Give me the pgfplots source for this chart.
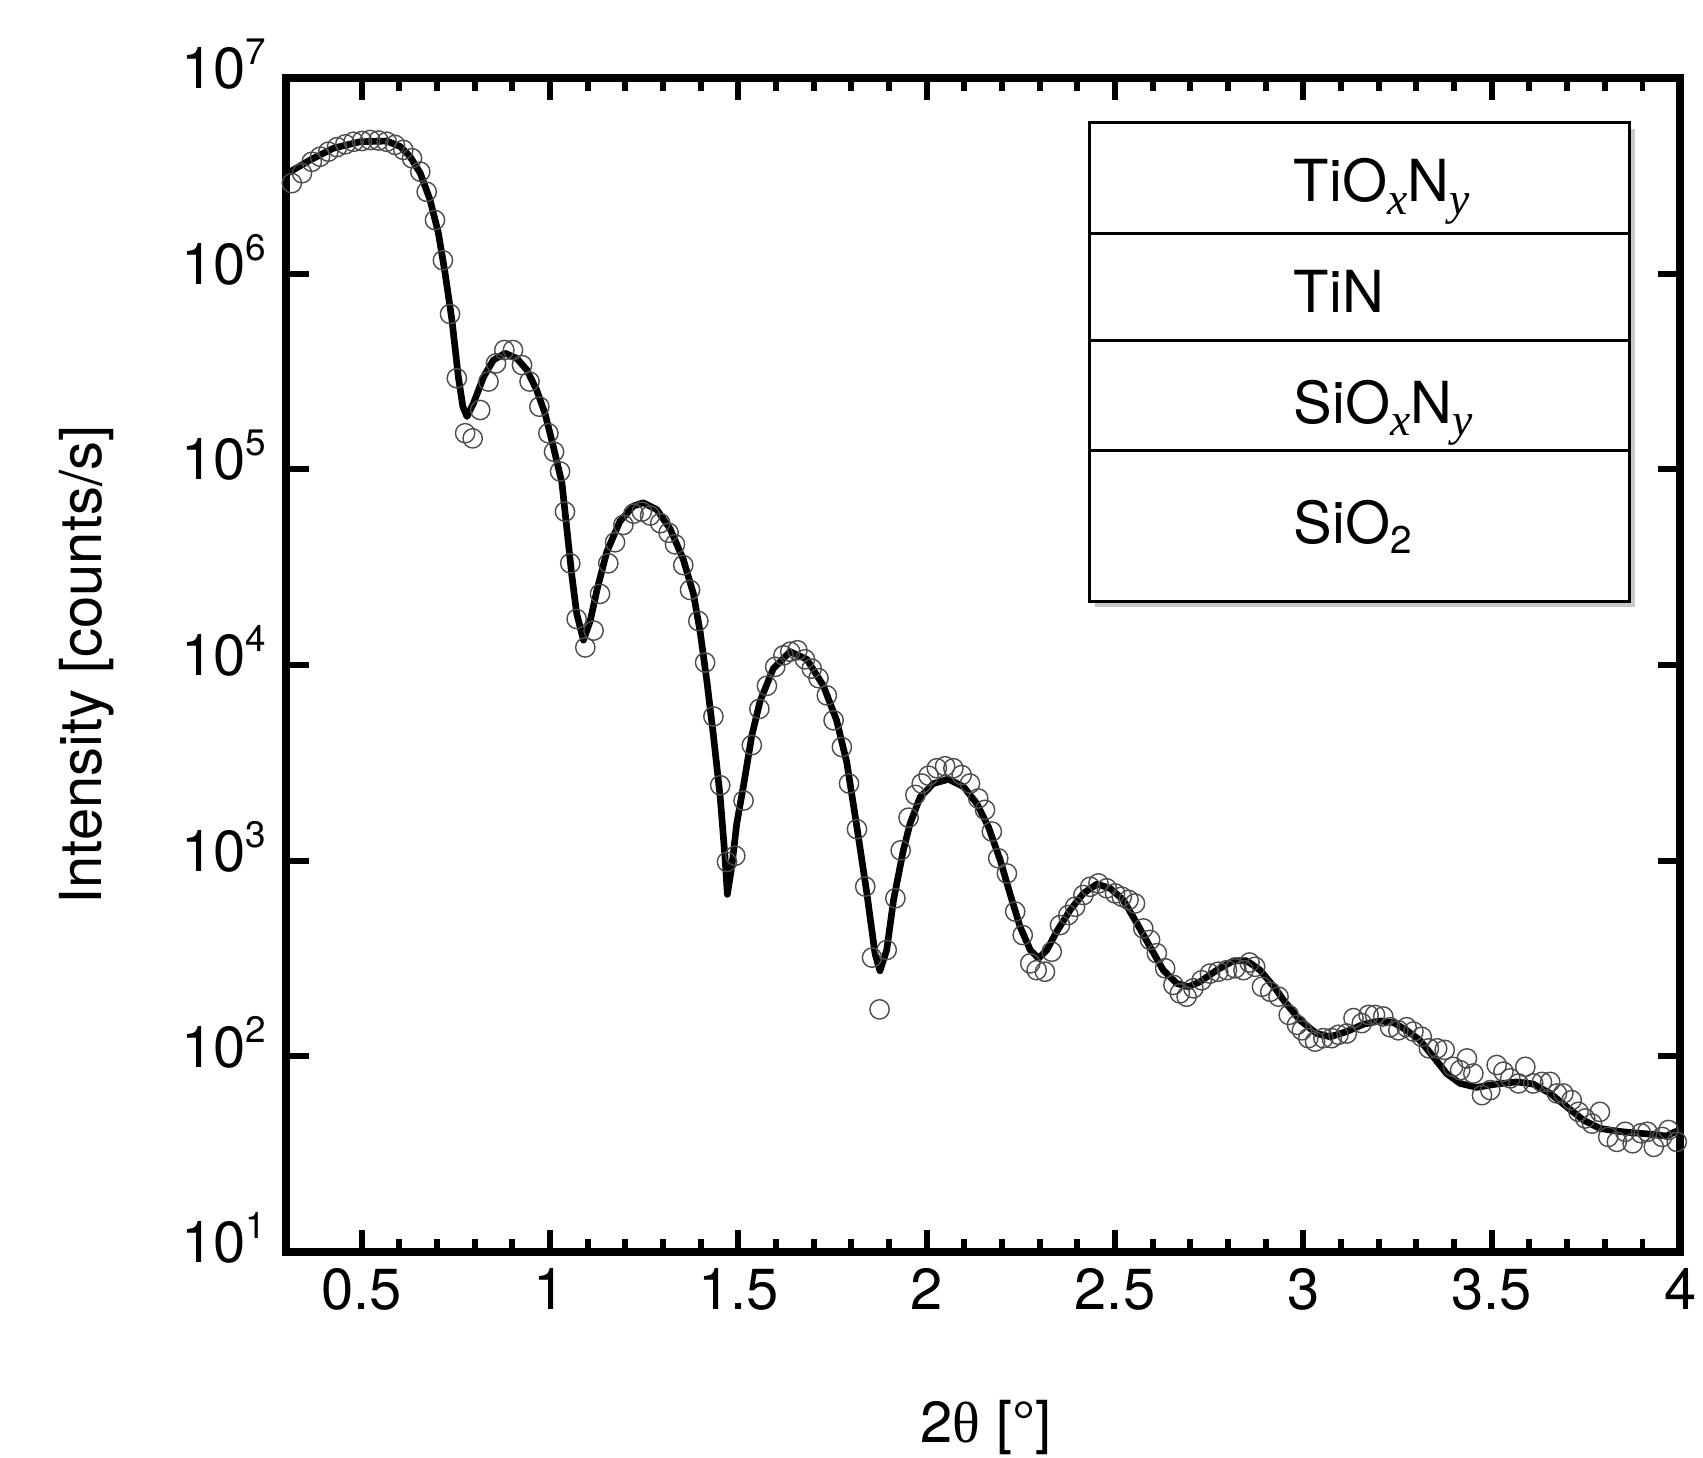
\documentclass[border=0pt]{standalone}
\usepackage{fontspec}
\setmainfont{TeX Gyre Heros}
\newfontfamily\tms{Liberation Serif}
\usepackage{pgfplots}
\pgfplotsset{compat=1.18}
\newcommand\sups[1]{\raisebox{0.42em}{\fontsize{10.5}{12}\selectfont #1}}
\newcommand\isub[1]{\raisebox{-0.22em}{\fontsize{13}{14}\selectfont\tms\itshape #1}}
\newcommand\nsub[1]{\raisebox{-0.18em}{\fontsize{11}{12}\selectfont #1}}
\begin{document}
\fontsize{16.5}{20}\selectfont
\begin{tikzpicture}
\path[use as bounding box] (-81.5pt,-58.4pt) rectangle (403.5pt,356.6pt);
\begin{axis}[
  scale only axis, width=397pt, height=334.4pt,
  xmin=0.3, xmax=4, ymode=log, ymin=10, ymax=1e7,
  clip=false,
  axis line style={line width=2.1pt, line cap=rect},
  tick align=inside,
  major tick length=6.4pt, minor tick length=3.7pt,
  major tick style={line width=1.7pt, black},
  minor tick style={line width=1.7pt, black},
  xtick={0.5,1,1.5,2,2.5,3,3.5,4},
  xticklabels={0.5,1,1.5,2,2.5,3,3.5,4},
  minor x tick num=4,
  ytick={1e1,1e2,1e3,1e4,1e5,1e6,1e7},
  yticklabels={10\sups{1},10\sups{2},10\sups{3},10\sups{4},10\sups{5},10\sups{6},10\sups{7}},
  yminorticks=false,
  xticklabel style={yshift=1pt},
  yticklabel style={yshift=4pt},
  every axis y label/.style={at={(axis description cs:-0.1428,0.5)}, rotate=90, anchor=center},
  every axis x label/.style={at={(axis description cs:0.502,-0.1495)}, anchor=center},
  ylabel={Intensity [counts/s]},
  xlabel={2{\tms θ} [°]},
]
\addplot[only marks, mark=o, mark size=2.75pt, mark options={draw=black!70, line width=0.4pt}] coordinates {
(0.315,2.90e6)(0.342,3.26e6)(0.368,3.73e6)(0.39,3.96e6)(0.412,4.20e6)(0.435,4.43e6)
(0.457,4.58e6)(0.479,4.72e6)(0.501,4.76e6)(0.523,4.82e6)(0.545,4.79e6)(0.567,4.72e6)
(0.589,4.55e6)(0.611,4.29e6)(0.634,3.89e6)(0.656,3.32e6)(0.673,2.62e6)(0.695,1.88e6)
(0.716,1.17e6)(0.735,6.22e5)(0.753,2.92e5)(0.775,1.53e5)(0.795,1.44e5)(0.815,2.01e5)
(0.837,2.81e5)(0.857,3.48e5)(0.879,4.07e5)(0.902,4.07e5)(0.926,3.41e5)(0.946,2.81e5)
(0.972,2.09e5)(0.996,1.53e5)(1.011,1.23e5)(1.027,9.75e4)(1.04,6.08e4)(1.054,3.31e4)
(1.071,1.72e4)(1.094,1.23e4)(1.116,1.50e4)(1.133,2.31e4)(1.155,3.31e4)(1.173,4.24e4)
(1.195,5.20e4)(1.222,5.94e4)(1.244,6.08e4)(1.266,5.81e4)(1.293,5.31e4)(1.315,4.74e4)
(1.332,4.14e4)(1.354,3.24e4)(1.372,2.42e4)(1.394,1.68e4)(1.412,1.03e4)(1.434,5460)
(1.452,2430)(1.47,986)(1.492,1060)(1.514,2030)(1.536,3900)(1.556,5970)
(1.576,7830)(1.598,9790)(1.62,11200)(1.638,11700)(1.657,11900)(1.677,10700)
(1.695,9590)(1.713,8570)(1.735,7000)(1.753,5220)(1.775,3810)(1.794,2480)
(1.815,1450)(1.837,738)(1.855,320)(1.875,174)(1.894,350)(1.917,643)
(1.931,1130)(1.952,1660)(1.97,2170)(1.987,2480)(2.005,2720)(2.027,2970)
(2.049,3040)(2.071,2970)(2.093,2740)(2.115,2480)(2.137,2080)(2.155,1820)
(2.173,1410)(2.19,1030)(2.213,861)(2.235,550)(2.255,417)(2.275,299)
(2.292,276)(2.314,271)(2.332,343)(2.354,469)(2.376,528)(2.394,582)
(2.416,668)(2.434,736)(2.456,766)(2.478,723)(2.5,681)(2.518,655)
(2.536,631)(2.553,605)(2.575,451)(2.593,394)(2.611,337)(2.633,282)
(2.655,232)(2.672,210)(2.69,202)(2.708,223)(2.73,245)(2.752,265)
(2.774,271)(2.797,276)(2.819,282)(2.841,276)(2.857,302)(2.872,287)
(2.89,227)(2.912,214)(2.934,202)(2.961,163)(2.983,145)(2.996,136)
(3.013,124)(3.031,119)(3.053,124)(3.075,124)(3.093,129)(3.115,131)
(3.133,157)(3.155,148)(3.173,163)(3.19,163)(3.212,160)(3.23,141)
(3.252,136)(3.274,141)(3.292,134)(3.314,126)(3.333,110)(3.355,110)
(3.375,108)(3.397,88.5)(3.416,85.1)(3.434,97.7)(3.451,81.8)(3.474,63.4)
(3.496,67.3)(3.513,90.4)(3.531,83.6)(3.549,77.3)(3.571,72.8)(3.589,88.5)
(3.61,72.8)(3.633,74.1)(3.655,74.1)(3.673,64.7)(3.69,64.7)(3.712,59.8)
(3.73,52.1)(3.748,48.2)(3.766,45.4)(3.787,52.1)(3.809,38.8)(3.832,36.6)
(3.854,41.2)(3.874,36.0)(3.896,40.5)(3.913,41.2)(3.93,34.5)(3.952,38.8)
(3.969,42.1)(3.991,36.6)
};
\addplot[black, line width=1.9pt, line join=round, no markers] coordinates {
(0.300,3.24e6)(0.311,3.32e6)(0.364,3.81e6)(0.426,4.38e6)(0.496,4.72e6)(0.567,4.76e6)
(0.603,4.46e6)(0.629,3.96e6)(0.656,3.26e6)(0.682,2.38e6)(0.704,1.61e6)(0.722,1.00e6)
(0.740,5.79e5)(0.757,2.97e5)(0.769,2.09e5)(0.780,1.86e5)(0.797,2.17e5)(0.824,2.97e5)
(0.850,3.62e5)(0.881,3.92e5)(0.912,3.69e5)(0.939,3.22e5)(0.965,2.54e5)(0.987,1.93e5)
(1.009,1.31e5)(1.032,8.51e4)(1.045,4.97e4)(1.058,2.89e4)(1.071,1.84e4)(1.089,1.34e4)
(1.107,1.68e4)(1.125,2.42e4)(1.151,3.79e4)(1.186,5.43e4)(1.222,6.50e4)(1.248,6.75e4)
(1.284,6.22e4)(1.319,4.97e4)(1.354,3.47e4)(1.381,2.31e4)(1.399,1.47e4)(1.417,8180)
(1.434,4370)(1.452,2120)(1.465,1030)(1.471,673)(1.483,942)(1.496,1550)
(1.514,2430)(1.536,4370)(1.558,6550)(1.593,9590)(1.638,11700)(1.682,10700)
(1.726,7830)(1.761,5220)(1.788,3180)(1.815,1480)(1.841,687)(1.863,335)
(1.876,274)(1.894,350)(1.912,628)(1.938,1130)(1.956,1550)(1.983,2120)
(2.018,2480)(2.058,2610)(2.098,2390)(2.133,1960)(2.164,1490)(2.195,1010)
(2.221,681)(2.248,460)(2.275,350)(2.297,317)(2.319,350)(2.345,434)
(2.381,560)(2.416,681)(2.452,760)(2.487,723)(2.522,630)(2.558,479)
(2.593,363)(2.628,276)(2.664,236)(2.695,227)(2.726,241)(2.770,276)
(2.814,308)(2.850,308)(2.885,276)(2.929,218)(2.947,194)(2.991,153)
(3.035,131)(3.071,126)(3.115,134)(3.159,146)(3.203,152)(3.239,149)
(3.274,136)(3.309,121)(3.345,99.5)(3.380,81.8)(3.416,72.8)(3.460,69.5)
(3.513,72.3)(3.566,74.1)(3.610,72.3)(3.655,64.7)(3.699,55.3)(3.743,47.3)
(3.787,42.9)(3.832,41.5)(3.876,40.7)(3.920,40.1)(3.964,39.2)(3.986,41.2)
(4.000,41.7)
};
\end{axis}
% layer stack diagram
\fill[black!22] (230.3pt,183.8pt) rectangle (384.1pt,320.0pt);
\draw[line width=0.8pt, fill=white] (228.7pt,185.4pt) rectangle (382.5pt,321.6pt);
\draw[line width=0.8pt] (228.7pt,290.2pt) -- (382.5pt,290.2pt);
\draw[line width=0.8pt] (228.7pt,259.6pt) -- (382.5pt,259.6pt);
\draw[line width=0.8pt] (228.7pt,228.2pt) -- (382.5pt,228.2pt);
\node[anchor=base west, inner sep=0pt] at (286.8pt,299.2pt) {TiO\isub{x}N\isub{y}};
\node[anchor=base west, inner sep=0pt] at (286.8pt,267.7pt) {TiN};
\node[anchor=base west, inner sep=0pt] at (286.8pt,236.1pt) {SiO\isub{x}N\isub{y}};
\node[anchor=base west, inner sep=0pt] at (286.8pt,201.9pt) {SiO\nsub{2}};
\end{tikzpicture}
\end{document}
